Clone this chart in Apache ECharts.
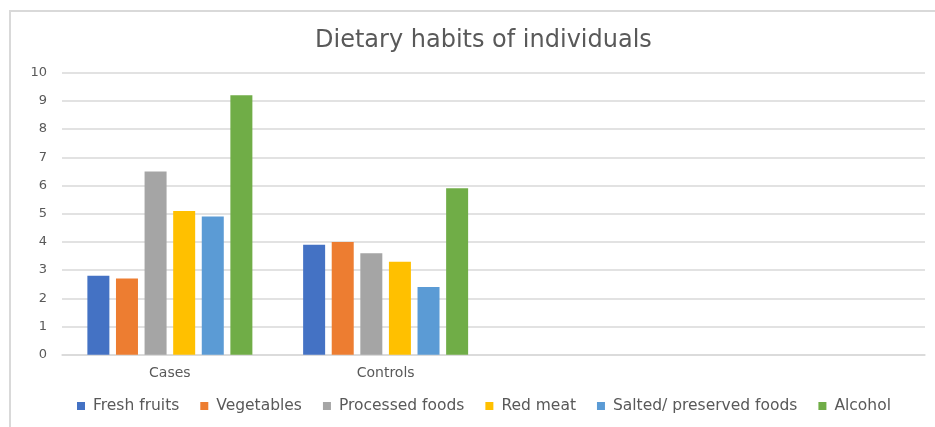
<!DOCTYPE html>
<html>
<head>
<meta charset="utf-8">
<script src="https://cdn.jsdelivr.net/npm/echarts@6/dist/echarts.min.js"></script>
<style>
  html, body { margin: 0; padding: 0; background: #fff; }
  #chart { width: 935px; height: 427px; }
</style>
</head>
<body>
<div id="chart"></div>
<script>
// groups on the x axis; the last two are empty slots as in the original sheet
const groups = ['Cases', 'Controls', ' ', '  '];

const freshFruits = [2.8, 3.9, '-', '-'];
const vegetables = [2.7, 4.0, '-', '-'];
const processedFoods = [6.5, 3.6, '-', '-'];
const redMeat = [5.1, 3.3, '-', '-'];
const saltedFoods = [4.9, 2.4, '-', '-'];
const alcohol = [9.2, 5.9, '-', '-'];

const seriesNames = ['Fresh fruits', 'Vegetables', 'Processed foods', 'Red meat', 'Salted/ preserved foods', 'Alcohol'];
const seriesData = [freshFruits, vegetables, processedFoods, redMeat, saltedFoods, alcohol];
const colors = ['#4472c4', '#ed7d31', '#a5a5a5', '#ffc000', '#5b9bd5', '#70ad47'];

const textColor = '#595959';
const gridColor = '#d9d9d9';
const font = 'DejaVu Sans';

const chart = echarts.init(document.getElementById('chart'));

chart.setOption({
    backgroundColor: '#fff',
    animation: false,
    color: colors,
    title: {
        text: 'Dietary habits of individuals',
        left: 310,
        top: 24,
        textStyle: {
            fontFamily: font,
            fontSize: 24,
            fontWeight: 'normal',
            color: textColor,
        },
    },
    legend: {
        data: seriesNames,
        left: 72,
        bottom: 8,
        icon: 'rect',
        itemWidth: 8,
        itemHeight: 8,
        itemGap: 21,
        textStyle: {
            fontFamily: font,
            fontSize: 15.5,
            color: textColor,
            padding: [0, 0, 0, 3],
        },
    },
    grid: {
        left: 62,
        right: 10,
        top: 72.7,
        bottom: 72.3,
    },
    xAxis: {
        type: 'category',
        data: groups,
        axisLine: { lineStyle: { color: gridColor, width: 1.5 } },
        axisTick: { show: false },
        axisLabel: {
            fontFamily: font,
            fontSize: 14,
            color: textColor,
            margin: 12,
        },
    },
    yAxis: {
        type: 'value',
        min: 0,
        max: 10,
        interval: 1,
        axisLine: { show: false },
        axisTick: { show: false },
        splitLine: { lineStyle: { color: gridColor, width: 1.5 } },
        axisLabel: {
            fontFamily: font,
            fontSize: 13,
            color: textColor,
            margin: 15,
        },
    },
    series: seriesNames.map((name, i) => ({
        name: name,
        type: 'bar',
        data: seriesData[i],
        barWidth: 22,
        barGap: '30%',
    })),
    graphic: [
        {
            type: 'polyline',
            silent: true,
            shape: { points: [[10, 427], [10, 11], [935, 11]] },
            style: { stroke: gridColor, lineWidth: 2, fill: null },
        },
    ],
});
</script>
</body>
</html>
